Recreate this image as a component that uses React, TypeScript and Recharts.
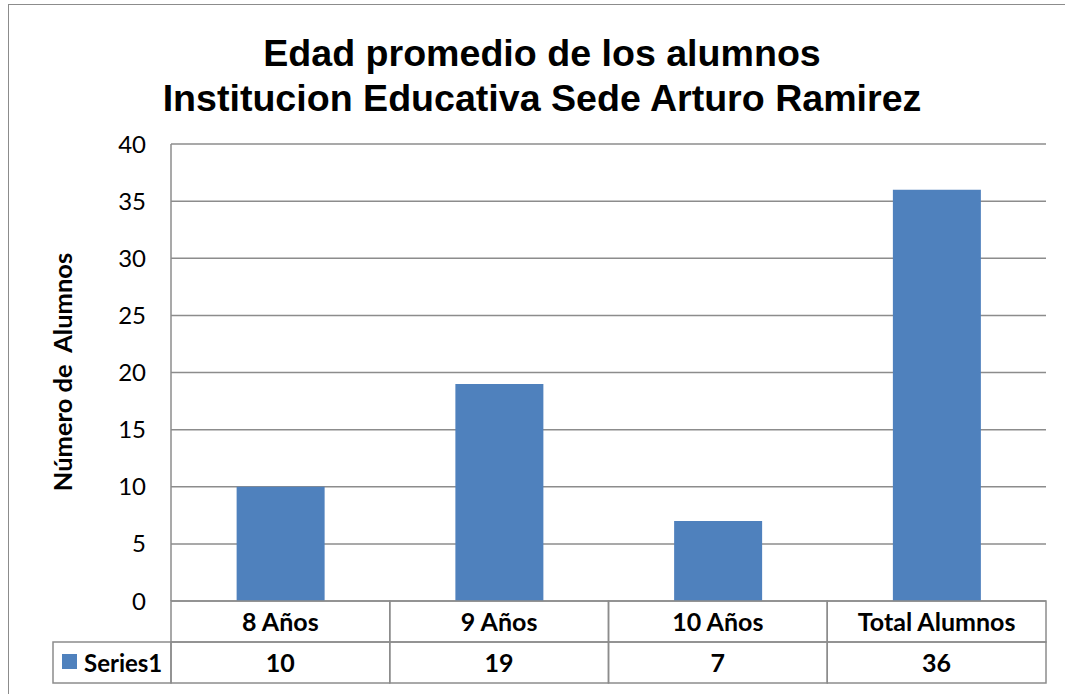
import React from 'react';
import { BarChart, Bar, XAxis, YAxis, CartesianGrid } from 'recharts';

const categories = ['8 Años', '9 Años', '10 Años', 'Total Alumnos'];
const series1 = [10, 19, 7, 36];
const yTicks = [0, 5, 10, 15, 20, 25, 30, 35, 40];
const seriesName = 'Series1';

const data = categories.map((name, i) => ({ name, value: series1[i] }));

const W = 1065;
const H = 694;
const GRID = '#8c8c8c';
const BAR = '#4f81bd';
const TABLE_FONT = 'Lato, "Open Sans", sans-serif';
const TABLE_SIZE = 25;
const ROW = 41;
const LEGEND_W = 118;

const TableTick = (props: any) => {
    const { x, y, payload, index } = props;
    const half = payload.offset ?? 109.4;
    const left = x - half;
    const w = half * 2;
    return (
        <g>
            <rect x={left} y={y} width={w} height={ROW} fill="none" stroke={GRID} strokeWidth={1.5} />
            <rect x={left} y={y + ROW} width={w} height={ROW} fill="none" stroke={GRID} strokeWidth={1.5} />
            <text x={x} y={y + ROW / 2 + 9} textAnchor="middle" fontFamily={TABLE_FONT} fontWeight={700} fontSize={TABLE_SIZE} fill="#000">
                {payload.value}
            </text>
            <text x={x} y={y + ROW * 1.5 + 9} textAnchor="middle" fontFamily={TABLE_FONT} fontWeight={700} fontSize={TABLE_SIZE} fill="#000">
                {series1[index]}
            </text>
            {index === 0 && (
                <g>
                    <rect x={left - LEGEND_W} y={y + ROW} width={LEGEND_W} height={ROW} fill="none" stroke={GRID} strokeWidth={1.5} />
                    <rect x={left - LEGEND_W + 9} y={y + ROW + 12} width={15} height={15} fill={BAR} />
                    <text x={left - LEGEND_W + 31} y={y + ROW * 1.5 + 9} fontFamily={TABLE_FONT} fontWeight={700} fontSize={24} fill="#000">
                        {seriesName}
                    </text>
                </g>
            )}
        </g>
    );
};

const App: React.FC = () => {
    return (
        <div style={{ position: 'absolute', left: 0, top: 0, width: W, height: H, overflow: 'hidden', background: '#fff' }}>
            <div style={{ position: 'absolute', left: 8, top: 4, width: W + 20, height: H + 20, border: `1.5px solid ${GRID}` }} />
            <div
                style={{
                    position: 'absolute',
                    left: 0,
                    top: 31,
                    width: 1084,
                    textAlign: 'center',
                    fontFamily: '"Liberation Sans", Arial, sans-serif',
                    fontWeight: 700,
                    fontSize: 37.6,
                    lineHeight: '45px',
                    color: '#000',
                }}
            >
                Edad promedio de los alumnos
                <br />
                Institucion Educativa Sede Arturo Ramirez
            </div>
            <div
                style={{
                    position: 'absolute',
                    left: 62 - 150,
                    top: 372 - 16,
                    width: 300,
                    height: 32,
                    lineHeight: '32px',
                    textAlign: 'center',
                    transform: 'rotate(-90deg)',
                    fontFamily: TABLE_FONT,
                    fontWeight: 700,
                    fontSize: 25.5,
                    color: '#000',
                    whiteSpace: 'pre',
                }}
            >
                Número de  Alumnos
            </div>
            <div style={{ position: 'absolute', left: 0, top: 0 }}>
                <BarChart width={W} height={H} data={data} margin={{ top: 144, right: 19, left: 0, bottom: 0 }} barCategoryGap="30%">
                    <CartesianGrid vertical={false} stroke={GRID} strokeWidth={1.5} />
                    <XAxis
                        dataKey="name"
                        height={93}
                        axisLine={false}
                        tickLine={false}
                        tickSize={0}
                        tickMargin={0}
                        interval={0}
                        tick={<TableTick />}
                    />
                    <YAxis
                        width={171}
                        domain={[0, 40]}
                        ticks={yTicks}
                        interval={0}
                        axisLine={{ stroke: GRID, strokeWidth: 1.5 }}
                        tickLine={false}
                        tickSize={0}
                        tickMargin={25}
                        tick={{ fill: '#000', fontSize: 24, fontFamily: TABLE_FONT }}
                    />
                    <Bar dataKey="value" fill={BAR} isAnimationActive={false} />
                </BarChart>
            </div>
        </div>
    );
};

export default App;
